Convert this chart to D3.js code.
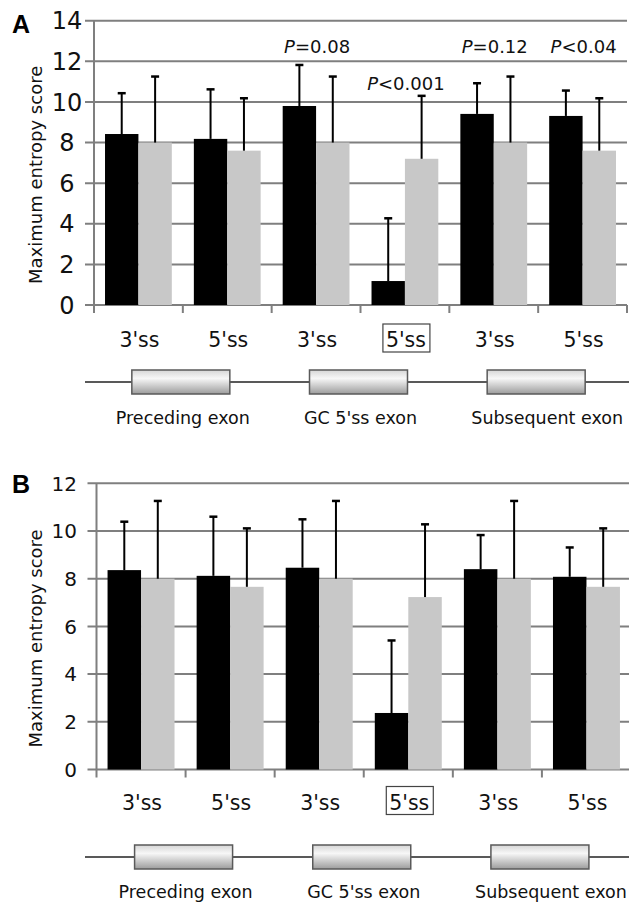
<!DOCTYPE html>
<html lang="en">
<head>
<meta charset="UTF-8" />
<title>Maximum entropy scores of splice sites</title>
<script src="https://d3js.org/d3.v7.min.js"></script>
<style>
  body { margin: 0; background: #fff; }
  svg { display: block; font-family: "DejaVu Sans", Verdana, sans-serif; }
</style>
</head>
<body>
<div id="chart"></div>
<script>
// categories along the x axis (splice sites of the three exons)
const sites = ["3'ss", "5'ss", "3'ss", "5'ss", "3'ss", "5'ss"];
const exonNames = ["Preceding exon", "GC 5'ss exon", "Subsequent exon"];
const boxedSite = 3; // the GC 5'ss itself

// panel A values (black = GC 5'ss exon set, gray = control set)
const gcMeanA = [8.42, 8.18, 9.80, 1.18, 9.41, 9.31];
const gcSdA = [2.01, 2.44, 2.02, 3.09, 1.51, 1.25];
const ctrlMeanA = [8.00, 7.60, 8.00, 7.20, 8.00, 7.60];
const ctrlSdA = [3.25, 2.58, 3.25, 3.10, 3.25, 2.58];
const pTextA = [null, null, "=0.08", "<0.001", "=0.12", "<0.04"];
const ticksA = [0, 2, 4, 6, 8, 10, 12, 14];

// panel B values
const gcMeanB = [8.36, 8.12, 8.46, 2.37, 8.40, 8.08];
const gcSdB = [2.03, 2.48, 2.03, 3.04, 1.43, 1.23];
const ctrlMeanB = [8.00, 7.66, 8.00, 7.23, 8.00, 7.66];
const ctrlSdB = [3.26, 2.45, 3.26, 3.05, 3.26, 2.45];
const ticksB = [0, 2, 4, 6, 8, 10, 12];

const W = 629, H = 902;
const svg = d3.select("#chart").append("svg")
  .attr("width", W)
  .attr("height", H);

// gradient for the exon boxes
const grad = svg.append("defs").append("linearGradient")
  .attr("id", "exonFill")
  .attr("x1", 0).attr("y1", 0).attr("x2", 0).attr("y2", 1);
grad.append("stop").attr("offset", "0%").attr("stop-color", "#d6d6d6");
grad.append("stop").attr("offset", "35%").attr("stop-color", "#f7f7f7");
grad.append("stop").attr("offset", "100%").attr("stop-color", "#9c9c9c");

function drawPanel(p) {
  const g = svg.append("g");

  const x = d3.scaleBand().domain(d3.range(sites.length)).range([p.left, p.right]);
  const xs = d3.scaleBand().domain(["gc", "ctrl"]).range([0, x.bandwidth()])
    .paddingInner(0).paddingOuter(0.33);
  const y = d3.scaleLinear().domain([0, p.max]).range([p.bottom, p.top]);

  // gridlines + tick marks
  g.selectAll(".grid").data(p.ticks).join("line")
    .attr("x1", p.left - 9).attr("x2", p.right)
    .attr("y1", d => y(d)).attr("y2", d => y(d))
    .attr("stroke", "#7f7f7f").attr("stroke-width", 2);

  g.selectAll(".ytick").data(p.ticks).join("text")
    .attr("x", p.labelX).attr("y", d => y(d))
    .attr("dy", "0.36em")
    .attr("text-anchor", p.labelAnchor)
    .attr("font-size", p.tickSize)
    .attr("fill", "#111")
    .text(d => d);

  // y axis line and x tick marks
  g.append("line")
    .attr("x1", p.left).attr("x2", p.left)
    .attr("y1", y(p.max)).attr("y2", p.bottom + 8)
    .attr("stroke", "#7f7f7f").attr("stroke-width", 2);
  g.selectAll(".xtick").data(d3.range(1, sites.length + 1)).join("line")
    .attr("x1", d => p.left + d * x.step()).attr("x2", d => p.left + d * x.step())
    .attr("y1", p.bottom).attr("y2", p.bottom + 8)
    .attr("stroke", "#7f7f7f").attr("stroke-width", 2);

  // bars
  const rows = d3.range(sites.length).map(i => ([
    { i, k: "gc", v: p.gcMean[i], e: p.gcSd[i], c: "#000" },
    { i, k: "ctrl", v: p.ctrlMean[i], e: p.ctrlSd[i], c: "#c8c8c8" }
  ])).flat();

  g.selectAll(".bar").data(rows).join("rect")
    .attr("x", d => x(d.i) + xs(d.k))
    .attr("width", xs.bandwidth())
    .attr("y", d => y(d.v))
    .attr("height", d => y(0) - y(d.v))
    .attr("fill", d => d.c);

  // error bars (upper only)
  const cx = d => x(d.i) + xs(d.k) + xs.bandwidth() / 2;
  g.selectAll(".err").data(rows).join("line")
    .attr("x1", cx).attr("x2", cx)
    .attr("y1", d => y(d.v)).attr("y2", d => y(d.v + d.e))
    .attr("stroke", "#000").attr("stroke-width", 2);
  g.selectAll(".cap").data(rows).join("line")
    .attr("x1", d => cx(d) - 4).attr("x2", d => cx(d) + 4)
    .attr("y1", d => y(d.v + d.e)).attr("y2", d => y(d.v + d.e))
    .attr("stroke", "#000").attr("stroke-width", 2.5);

  // P values
  if (p.pText) {
    const pl = g.selectAll(".pval").data(p.pText.map((t, i) => ({ t, i })).filter(d => d.t))
      .join("text")
      .attr("x", d => x(d.i) + x.bandwidth() / 2 + 1)
      .attr("y", d => d.t === "<0.001" ? p.pLow : p.pHigh)
      .attr("text-anchor", "middle")
      .attr("font-size", 18)
      .attr("fill", "#111");
    pl.append("tspan").attr("font-style", "italic").text("P");
    pl.append("tspan").text(d => d.t);
  }

  // y axis title
  g.append("text")
    .attr("transform", `translate(${p.titleX},${(y(0) + y(p.max)) / 2 + 12}) rotate(-90)`)
    .attr("text-anchor", "middle")
    .attr("font-size", 18)
    .attr("fill", "#111")
    .text("Maximum entropy score");

  // panel letter
  g.append("text")
    .attr("x", 12).attr("y", p.letterY)
    .attr("font-family", "'Liberation Sans', Arial, sans-serif")
    .attr("font-weight", "bold")
    .attr("font-size", 25)
    .text(p.letter);

  // site labels
  const siteY = p.bottom + p.siteGap;
  g.selectAll(".site").data(sites).join("text")
    .attr("x", (d, i) => x(i) + x.bandwidth() / 2 + 1)
    .attr("y", siteY)
    .attr("text-anchor", "middle")
    .attr("font-size", 20.5)
    .attr("fill", "#111")
    .text(d => d);
  g.append("rect")
    .attr("x", x(boxedSite) + x.bandwidth() / 2 + 1 - 23)
    .attr("y", siteY - 23)
    .attr("width", 47).attr("height", 28)
    .attr("fill", "none")
    .attr("stroke", "#444").attr("stroke-width", 1.2);

  // exon diagram
  const lineY = p.bottom + p.lineGap;
  g.append("line")
    .attr("x1", 85).attr("x2", W)
    .attr("y1", lineY).attr("y2", lineY)
    .attr("stroke", "#222").attr("stroke-width", 1.5);
  const exonC = exonNames.map((n, j) => p.left + (2 * j + 1) * x.step() - 2);
  g.selectAll(".exon").data(exonNames).join("rect")
    .attr("x", (d, j) => exonC[j] - 49)
    .attr("y", lineY - 12)
    .attr("width", 98).attr("height", 24)
    .attr("fill", "url(#exonFill)")
    .attr("stroke", "#5a5a5a").attr("stroke-width", 1.5);
  const labelShift = [2, 2, 11];
  g.selectAll(".exonlab").data(exonNames).join("text")
    .attr("x", (d, j) => exonC[j] + labelShift[j])
    .attr("y", lineY + p.labelGap)
    .attr("text-anchor", "middle")
    .attr("font-size", 17.5)
    .attr("fill", "#111")
    .text(d => d);
}

drawPanel({
  letter: "A", letterY: 33,
  left: 94, right: 627, top: 20.7, bottom: 305, max: 14, ticks: ticksA,
  labelX: 67, labelAnchor: "middle", tickSize: 24, titleX: 42,
  siteGap: 42, lineGap: 77, labelGap: 42,
  gcMean: gcMeanA, gcSd: gcSdA, ctrlMean: ctrlMeanA, ctrlSd: ctrlSdA,
  pText: pTextA, pHigh: 53, pLow: 90
});

drawPanel({
  letter: "B", letterY: 493,
  left: 96.5, right: 631, top: 483.3, bottom: 769.5, max: 12, ticks: ticksB,
  labelX: 77, labelAnchor: "end", tickSize: 20, titleX: 42,
  siteGap: 40, lineGap: 87.5, labelGap: 41,
  gcMean: gcMeanB, gcSd: gcSdB, ctrlMean: ctrlMeanB, ctrlSd: ctrlSdB
});
</script>
</body>
</html>
